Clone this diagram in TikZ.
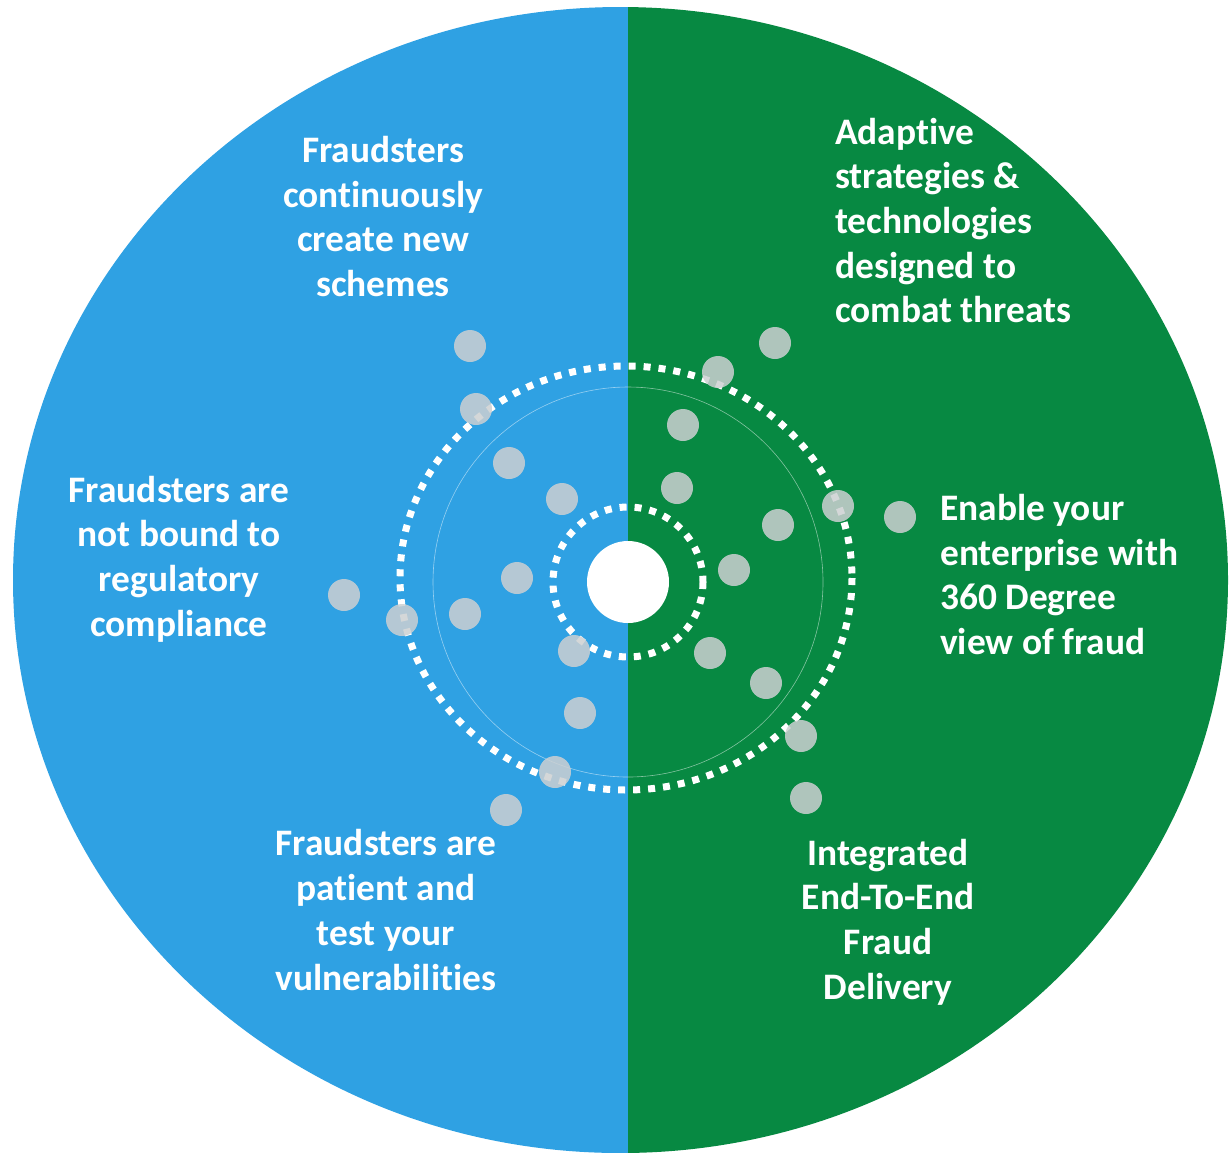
\documentclass[tikz,border=0pt]{standalone}
\usepackage{fontspec}
\setmainfont[Ligatures=NoCommon]{Carlito}
\usetikzlibrary{positioning}
\definecolor{leftblue}{RGB}{47,161,227}
\definecolor{rightgreen}{RGB}{7,137,66}
\definecolor{dotgray}{RGB}{205,208,210}
\begin{document}
\begin{tikzpicture}[x=1pt, y=-1pt,
	blurb/.style={text=white, font=\fontsize{37.4}{44.7}\selectfont\bfseries, inner sep=0pt},
	ring/.style={draw=white, line width=7pt, dash pattern=on 7pt off 8pt},
	spot/.style={circle, fill=dotgray, fill opacity=0.85, minimum size=32pt, inner sep=0pt}]
	\useasboundingbox (0,0) rectangle (1230,1152);
	% two halves of the disc
	\begin{scope}
		\clip (620.5,580) ellipse [x radius=607.5, y radius=573];
		\fill[leftblue] (0,0) rectangle (628,1160);
		\fill[rightgreen] (628,0) rectangle (1240,1160);
	\end{scope}
	% rings round the hub
	\coordinate (c) at (628,582);
	\draw[white, opacity=0.5, line width=0.6pt] (c) circle [radius=195];
	\draw[ring] (626,578) ellipse [x radius=226, y radius=212];
	\draw[ring] (c) circle [radius=75];
	\node[circle, fill=white, minimum size=82pt, inner sep=0pt] (hub) at (c) {};
	% grey spots
	\foreach \x/\y [count=\i] in {470/346, 476/409, 509/463, 562/499, 517/578, 465/614, 402/620, 344/595, 574/651, 580/713, 555/772, 506/810,
		775/343, 718/372, 683/425, 677/488, 838/506, 900/517, 778/525, 734/570, 710/653, 766/683, 801/736, 806/798}
		\node[spot] (s\i) at (\x,\y) {};
	% texts
	\node[blurb, align=center] (t1) at (383,216.5) {Fraudsters\\continuously\\create new\\schemes};
	\node[blurb, align=center] (t2) at (179,559) {Fraudsters are\\not bound to\\regulatory\\compliance};
	\node[blurb, align=center] (t3) at (386,910) {Fraudsters are\\patient and\\test your\\vulnerabilities};
	\node[blurb, align=left, anchor=west] (t4) at (835,220.5) {Adaptive\\strategies \&\\technologies\\designed to\\combat threats};
	\node[blurb, align=left, anchor=west] (t5) at (940,574.5) {Enable your\\enterprise with\\360 Degree\\view of fraud};
	\node[blurb, align=center] (t6) at (888,922) {Integrated\\End-To-End\\Fraud\\Delivery};
\end{tikzpicture}
\end{document}
